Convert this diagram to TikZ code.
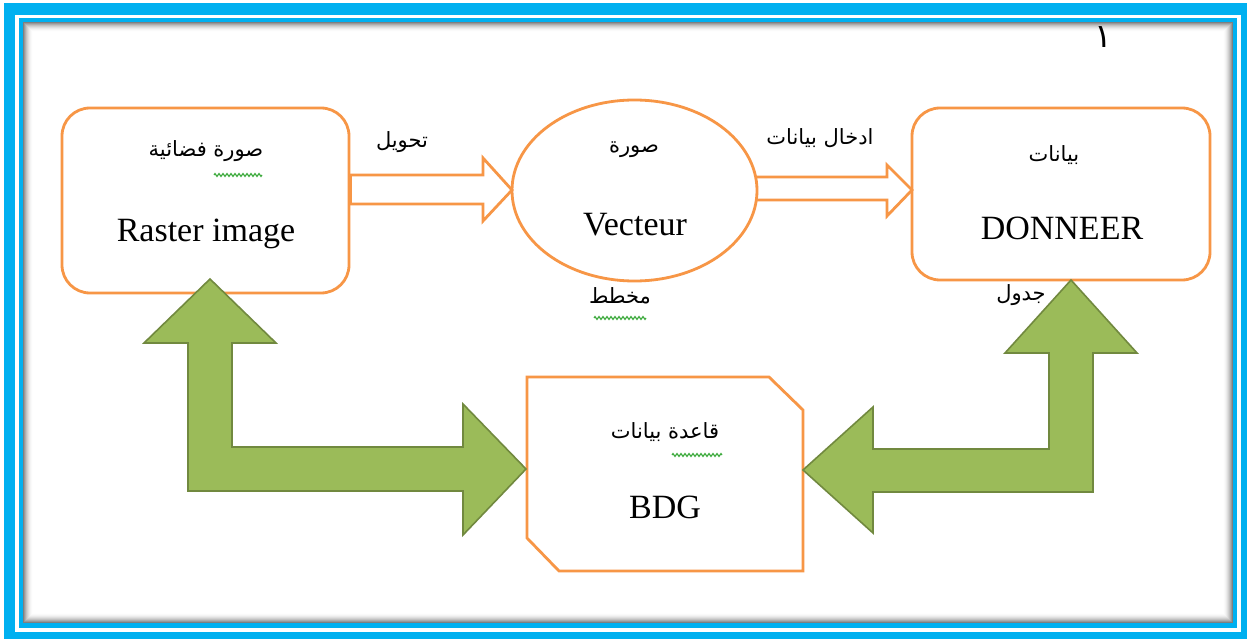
\documentclass[tikz,border=0pt]{standalone}
\usepackage{fontspec}
\setmainfont{Liberation Serif}
\newfontfamily\arabicfont[Script=Arabic]{DejaVu Sans}
\TeXXeTstate=1
\usetikzlibrary{shapes.geometric,decorations.pathmorphing}

\definecolor{frameblue}{HTML}{00B0F0}
\definecolor{boxorange}{HTML}{F79646}
\definecolor{arrowgreen}{HTML}{9BBB59}
\definecolor{arrowedge}{HTML}{71893F}
\definecolor{squiggle}{HTML}{3DAA3D}

\newcommand\artxt[1]{{\arabicfont\beginR #1\endR}}

\tikzset{
  rbox/.style={draw=boxorange, line width=2.8pt, rounded corners=28pt, fill=white, inner sep=0pt},
  orangeline/.style={draw=boxorange, line width=2.8pt, line join=miter},
  greenarrow/.style={fill=arrowgreen, draw=arrowedge, line width=1.6pt, line join=miter},
  latinlbl/.style={font=\fontsize{34}{38}\selectfont, inner sep=0pt},
  arablbl/.style={font=\fontsize{21}{26}\selectfont, inner sep=0pt},
  spell/.style={draw=squiggle, line width=1.2pt, decorate,
    decoration={zigzag, segment length=4pt, amplitude=1.4pt}}
}

\begin{document}
\begin{tikzpicture}[x=1pt, y=-1pt]
  \useasboundingbox (0,0) rectangle (1247,639);

  % page frame: thick blue border, thin white gap, inner blue rule
  \fill[frameblue] (4,3) rectangle (1247,639);
  \draw[white, line width=3.5pt] (17,16.5) rectangle (1239,630);
  \fill[white] (23,22) rectangle (1233,623);
  % soft inner shadow along the inner edge
  \foreach \i [evaluate=\i as \op using 0.5*(1-\i/10)^2] in {0,...,9}
    \draw[black, opacity=\op, line width=1pt]
      (23.5+\i,22.5+\i) rectangle (1232.5-\i,622.5-\i);

  % page number
  \node[font=\fontsize{33}{36}\selectfont, inner sep=0pt] (pnum) at (1103,37) {\artxt{١}};

  % main boxes
  \node[rbox, minimum width=287pt, minimum height=185pt] (raster) at (205.5,200.5) {};
  \node[draw=boxorange, line width=2.8pt, ellipse, fill=white, inner sep=0pt,
        minimum width=245pt, minimum height=181pt] (vect) at (634.5,190.5) {};
  \node[rbox, minimum width=298pt, minimum height=172pt] (donnee) at (1061,194) {};

  % database box with two snipped corners
  \draw[orangeline, fill=white]
    (527,377) -- (769,377) -- (803,410) -- (803,571) -- (559,571) -- (527,538) -- cycle;

  % hollow block arrows between the top shapes
  \coordinate (a1tip) at (512,190);
  \draw[orangeline, fill=white]
    (raster.east |- 0,175) -- (483,175) -- (483,158) -- (a1tip)
    -- (483,221) -- (483,204) -- (raster.east |- 0,204) -- cycle;
  \coordinate (a2tip) at (912,190);
  \draw[orangeline]
    (756,177) -- (887,177) -- (887,165) -- (a2tip)
    -- (887,216) -- (887,200) -- (756,200);

  % green bent double arrows to the database
  \draw[greenarrow]
    (210,279) -- (276,343) -- (232,343) -- (232,447) -- (463,447) -- (463,404)
    -- (526,469) -- (463,535) -- (463,491) -- (188,491) -- (188,343) -- (144,343) -- cycle;
  \draw[greenarrow]
    (1071,280) -- (1137,353) -- (1093,353) -- (1093,492) -- (873,492) -- (873,533)
    -- (803,470) -- (873,407) -- (873,449) -- (1049,449) -- (1049,353) -- (1005,353) -- cycle;

  % labels
  \node[arablbl] (rasterar) at (206,151) {\artxt{صورة فضائية}};
  \node[latinlbl, anchor=base] (rastertx) at (206,241) {Raster image};
  \node[arablbl] (convlbl) at (402,142) {\artxt{تحويل}};
  \node[arablbl] (vectar) at (634,150) {\artxt{صورة}};
  \node[latinlbl, anchor=base] (vecttx) at (635,236) {Vecteur};
  \node[arablbl] (planlbl) at (620,296) {\artxt{مخطط}};
  \node[arablbl] (inputlbl) at (820,138) {\artxt{ادخال بيانات}};
  \node[arablbl] (donneear) at (1054,155) {\artxt{بيانات}};
  \node[latinlbl, anchor=base] (donneetx) at (1062,240) {DONNEER};
  \node[arablbl] (tablelbl) at (1021,295) {\artxt{جدول}};
  \node[arablbl] (bdgar) at (665,432) {\artxt{قاعدة بيانات}};
  \node[latinlbl, anchor=base] (bdgtx) at (665,518) {BDG};

  % spell-check squiggles
  \draw[spell] (214,175) -- (262,175);
  \draw[spell] (594,318) -- (646,318);
  \draw[spell] (672,455) -- (722,455);
\end{tikzpicture}
\end{document}
